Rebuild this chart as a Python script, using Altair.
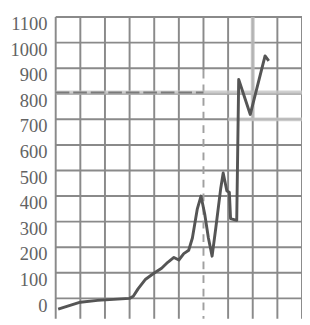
import altair as alt
import pandas as pd

# data series (x in grid columns, y in value units)
line_x = [0.1, 1.0, 1.7, 3.0, 3.15, 3.35, 3.65, 4.0, 4.3, 4.55, 4.8, 5.0, 5.2, 5.4, 5.55, 5.75, 5.9,
          6.05, 6.2, 6.35, 6.5, 6.7, 6.8, 6.95, 7.05, 7.1, 7.35, 7.43, 7.9, 8.5, 8.65]
line_y = [-42, -15, -8, 0, 8, 38, 75, 99, 118, 141, 160, 150, 175, 188, 236, 350, 400,
          330, 236, 165, 275, 430, 490, 420, 415, 312, 305, 856, 719, 948, 929]

y_ticks = [0, 100, 200, 300, 400, 500, 600, 700, 800, 900, 1000, 1100]
x_grid = [0, 1, 2, 3, 4, 5, 7, 8, 9, 10]

Y_MIN = -80
Y_MAX = 1100

df_line = pd.DataFrame({"x": line_x, "y": line_y, "i": list(range(len(line_x)))})
df_vgrid = pd.DataFrame({"x": x_grid})
df_hgrid = pd.DataFrame({"y": y_ticks})

xs = alt.Scale(domain=[0, 10], nice=False, zero=False)
ys = alt.Scale(domain=[Y_MIN, Y_MAX], nice=False, zero=False)

W, H = 253, 310

y_axis = alt.Axis(values=y_ticks, format="d", grid=False, ticks=False, domain=False,
                  labelOverlap=False, labelFont="Liberation Serif", labelFontSize=19,
                  labelColor="#636363", labelPadding=9, labelOffset=7, title=None)

hgrid = alt.Chart(df_hgrid).mark_rule(color="#8a8a8a", strokeWidth=2).encode(
    y=alt.Y("y:Q", scale=ys, axis=y_axis),
    x=alt.value(0), x2=alt.value(W))

vgrid = alt.Chart(df_vgrid).mark_rule(color="#8a8a8a", strokeWidth=2).encode(
    x=alt.X("x:Q", scale=xs, axis=None),
    y=alt.value(0), y2=alt.value(H))

# column 6: solid at the top, dashed below
v6_top = alt.Chart(pd.DataFrame({"x": [6], "y1": [1100], "y2": [890]})).mark_rule(
    color="#8a8a8a", strokeWidth=2).encode(
    x=alt.X("x:Q", scale=xs, axis=None), y=alt.Y("y1:Q", scale=ys, axis=y_axis), y2="y2:Q")
v6_dash = alt.Chart(pd.DataFrame({"x": [6], "y1": [890], "y2": [Y_MIN]})).mark_rule(
    color="#a0a0a0", strokeWidth=2, strokeDash=[8, 6]).encode(
    x=alt.X("x:Q", scale=xs, axis=None), y=alt.Y("y1:Q", scale=ys, axis=y_axis), y2="y2:Q")

# light reference bands
ref_h = pd.DataFrame({"x1": [0, 7], "x2": [10, 10], "y": [805, 700]})
ref_h_chart = alt.Chart(ref_h).mark_rule(color="#c4c4c4", strokeWidth=4, opacity=0.8).encode(
    x=alt.X("x1:Q", scale=xs, axis=None), x2="x2:Q", y=alt.Y("y:Q", scale=ys, axis=y_axis))
ref_dash = alt.Chart(pd.DataFrame({"x1": [0], "x2": [6], "y": [805]})).mark_rule(
    color="#7a7a7a", strokeWidth=2, strokeDash=[14, 4]).encode(
    x=alt.X("x1:Q", scale=xs, axis=None), x2="x2:Q", y=alt.Y("y:Q", scale=ys, axis=y_axis))
ref_v = alt.Chart(pd.DataFrame({"x": [8], "y1": [1100], "y2": [700]})).mark_rule(
    color="#bdbdbd", strokeWidth=4, opacity=0.8).encode(
    x=alt.X("x:Q", scale=xs, axis=None), y=alt.Y("y1:Q", scale=ys, axis=y_axis), y2="y2:Q")

line = alt.Chart(df_line).mark_line(color="#555555", strokeWidth=3, strokeJoin="round").encode(
    x=alt.X("x:Q", scale=xs, axis=None),
    y=alt.Y("y:Q", scale=ys, axis=y_axis),
    order="i:Q")

chart = alt.layer(hgrid, vgrid, v6_top, v6_dash, ref_h_chart, ref_dash, ref_v, line).properties(
    width=W, height=H,
    autosize=alt.AutoSizeParams(type="none"),
    padding={"left": 49, "top": 5, "right": 0, "bottom": 0},
    background="white",
).configure_view(stroke=None)

chart.save("out.html", embed_options={"renderer": "svg", "actions": False})
